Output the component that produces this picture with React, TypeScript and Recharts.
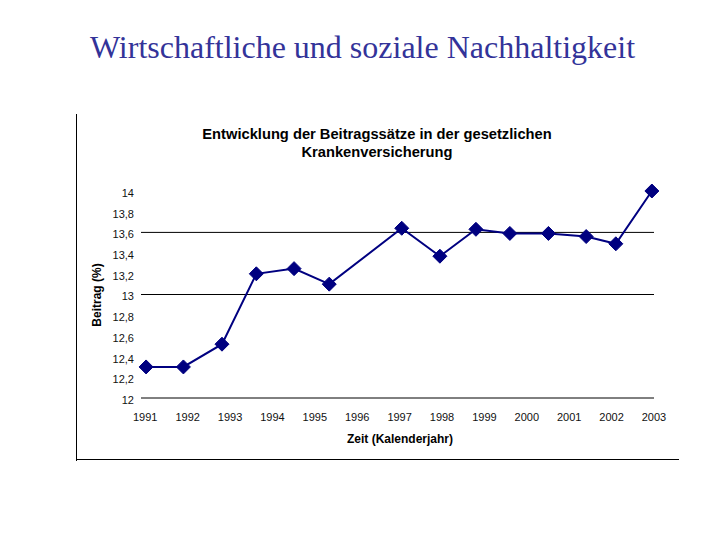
import { LineChart, Line, XAxis, YAxis, ReferenceLine } from 'recharts'

// Jahr (Position im Diagramm) und Beitragssatz in %
const years = [1991.02, 1991.9, 1992.81, 1993.62, 1994.51, 1995.34, 1997.05, 1997.95, 1998.8, 1999.6, 2000.51, 2001.4, 2002.1, 2002.95]
const beitrag = [12.3, 12.3, 12.52, 13.2, 13.25, 13.1, 13.64, 13.37, 13.63, 13.59, 13.59, 13.56, 13.49, 14.0]
const yearTicks = [1991, 1992, 1993, 1994, 1995, 1996, 1997, 1998, 1999, 2000, 2001, 2002, 2003]
const beitragTicks = [12, 12.2, 12.4, 12.6, 12.8, 13, 13.2, 13.4, 13.6, 13.8, 14]
const gridValues = [13, 13.6]

const data = years.map((jahr, i) => ({ jahr, beitrag: beitrag[i] }))

const NAVY = '#000080'
const SANS = '"Liberation Sans", Arial, sans-serif'

function Diamond(props: any) {
  const { cx, cy, index } = props
  if (cx == null || cy == null) return <g key={index} />
  const r = 7
  return (
    <polygon
      key={index}
      points={`${cx},${cy - r} ${cx + r},${cy} ${cx},${cy + r} ${cx - r},${cy}`}
      fill={NAVY}
      stroke={NAVY}
    />
  )
}

export default function App() {
  return (
    <div style={{ position: 'absolute', left: 0, top: 0, width: 720, height: 540, background: '#fff' }}>
      <div
        style={{
          position: 'absolute',
          left: 0,
          width: 725,
          top: 29,
          textAlign: 'center',
          fontFamily: '"Liberation Serif", "Times New Roman", serif',
          fontSize: 32,
          lineHeight: 'normal',
          color: '#333399'
        }}
      >
        Wirtschaftliche und soziale Nachhaltigkeit
      </div>

      {/* Rahmen links und unten */}
      <div style={{ position: 'absolute', left: 76, top: 114, width: 1, height: 347, background: '#000' }} />
      <div style={{ position: 'absolute', left: 76, top: 459, width: 603, height: 1, background: '#000' }} />

      <div
        style={{
          position: 'absolute',
          left: 0,
          width: 754,
          top: 125,
          textAlign: 'center',
          fontFamily: SANS,
          fontWeight: 'bold',
          fontSize: 14.7,
          lineHeight: '18px',
          color: '#000'
        }}
      >
        Entwicklung der Beitragssätze in der gesetzlichen
        <br />
        Krankenversicherung
      </div>

      <LineChart
        width={720}
        height={540}
        data={data}
        margin={{ top: 191, right: 66, bottom: 112, left: 81 }}
        style={{ position: 'absolute', left: 0, top: 0 }}
      >
        <XAxis
          dataKey="jahr"
          type="number"
          domain={[1990.9, 2003]}
          ticks={yearTicks}
          interval={0}
          height={30}
          tickLine={false}
          tickSize={0}
          tickMargin={15}
          axisLine={{ stroke: '#000', strokeWidth: 1 }}
          tick={{ fill: '#111', fontSize: 11, fontFamily: SANS }}
        />
        <YAxis
          type="number"
          domain={[12, 14]}
          ticks={beitragTicks}
          interval={0}
          width={60}
          axisLine={false}
          tickLine={false}
          tickSize={0}
          tickMargin={7}
          tickFormatter={(v: number) => String(v).replace('.', ',')}
          tick={{ fill: '#111', fontSize: 11, fontFamily: SANS, dy: 2 }}
        />
        {gridValues.map(v => (
          <ReferenceLine key={v} y={v} stroke="#000" strokeWidth={1} />
        ))}
        <Line
          type="linear"
          dataKey="beitrag"
          stroke={NAVY}
          strokeWidth={2}
          dot={Diamond}
          activeDot={false}
          isAnimationActive={false}
        />
      </LineChart>

      <div
        style={{
          position: 'absolute',
          left: 97,
          top: 295,
          transform: 'translate(-50%, -50%) rotate(-90deg)',
          fontFamily: SANS,
          fontWeight: 'bold',
          fontSize: 12,
          whiteSpace: 'nowrap',
          color: '#000'
        }}
      >
        Beitrag (%)
      </div>
      <div
        style={{
          position: 'absolute',
          left: 400,
          top: 439,
          transform: 'translate(-50%, -50%)',
          fontFamily: SANS,
          fontWeight: 'bold',
          fontSize: 12,
          whiteSpace: 'nowrap',
          color: '#000'
        }}
      >
        Zeit (Kalenderjahr)
      </div>
    </div>
  )
}
